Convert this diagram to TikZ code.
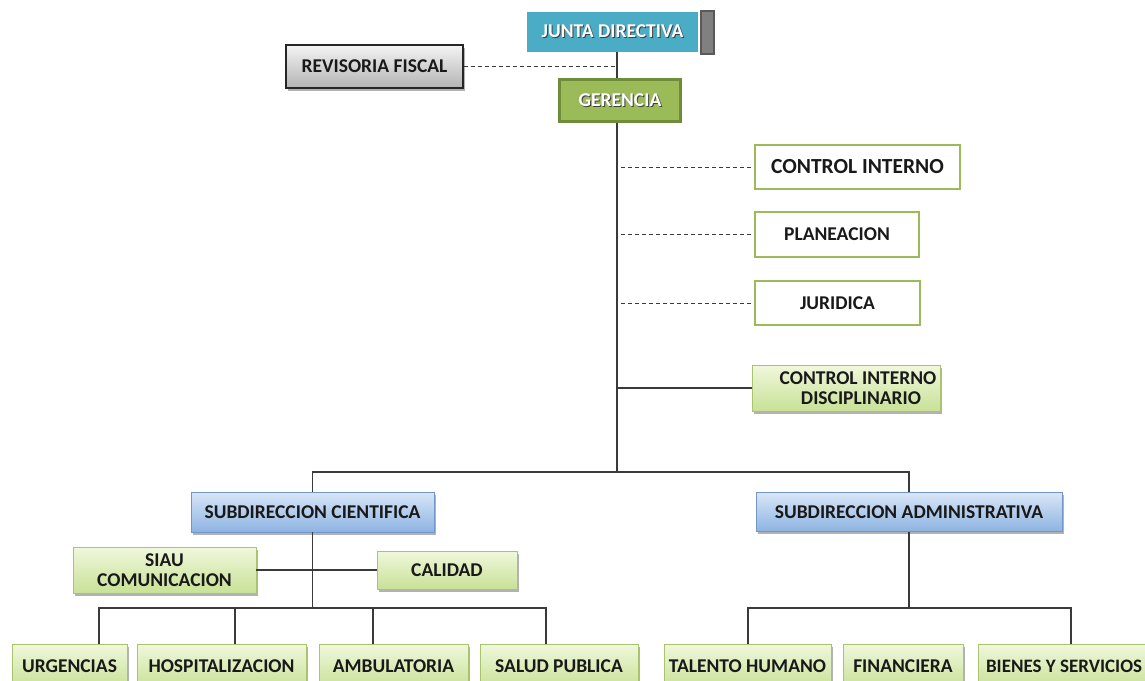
\documentclass[tikz,border=0pt]{standalone}
\usepackage{fontspec}
\setmainfont{Carlito}
\usetikzlibrary{shadows}

\definecolor{linegray}{HTML}{3A3A3A}
\definecolor{teal}{HTML}{4BACC6}
\definecolor{olive}{HTML}{9BBB59}
\definecolor{olivedark}{HTML}{6F8C3A}
\definecolor{greentop}{HTML}{F0F8DC}
\definecolor{greenbot}{HTML}{C8E196}
\definecolor{greenline}{HTML}{A9C36E}
\definecolor{bluetop}{HTML}{D9E6F7}
\definecolor{bluebot}{HTML}{8DB3E2}
\definecolor{blueline}{HTML}{7396C8}
\definecolor{graytop}{HTML}{F4F4F4}
\definecolor{graybot}{HTML}{B3B3B3}

% white lettering with a dark offset copy behind it
\newcommand\shtxt[1]{\leavevmode\rlap{\kern1pt\raisebox{-1pt}{\color{black!75}#1}}{\color{white}#1}}

\tikzset{
  box/.style={rectangle, inner sep=0pt, align=center, text=black!90,
    font=\fontsize{19.5}{20}\selectfont\bfseries},
  soft/.style={drop shadow={shadow xshift=2pt, shadow yshift=-2.5pt, opacity=0.3, fill=black}},
  jbox/.style={box, fill=teal},
  tabbox/.style={rectangle, inner sep=0pt, fill=black!50, draw=black!65, line width=2pt},
  graybox/.style={box, soft, draw=black!85, line width=1.2pt, top color=graytop, bottom color=graybot},
  gerbox/.style={box, fill=olive, draw=olivedark, line width=3pt},
  staffbox/.style={box, fill=white, draw=olive, line width=2.5pt},
  greenbox/.style={box, soft, draw=greenline, line width=0.9pt, top color=greentop, bottom color=greenbot},
  bluebox/.style={box, soft, draw=blueline, line width=0.9pt, top color=bluetop, bottom color=bluebot},
  link/.style={draw=linegray, line width=1.3pt},
  dashline/.style={draw=linegray, line width=1pt, dash pattern=on 4pt off 3pt},
}

\begin{document}
\begin{tikzpicture}[x=1pt, y=-1pt]
\useasboundingbox (0,0) rectangle (1145,680);
\clip (0,0) rectangle (1145,680);
\fill[white] (0,0) rectangle (1145,680);

% ---- top of the chart ----
\node[jbox, minimum width=171pt, minimum height=40pt] (junta) at (612.5,32) {\shtxt{JUNTA DIRECTIVA}};
\node[tabbox, minimum width=13pt, minimum height=43pt] (jtab) at (707.5,32.5) {};
\node[graybox, minimum width=177pt, minimum height=43pt] (rev) at (374.5,66.5) {REVISORIA FISCAL};
\node[gerbox, minimum width=121pt, minimum height=42pt] (ger) at (620,100.5) {\shtxt{GERENCIA}};

% ---- staff offices ----
\node[staffbox, minimum width=205pt, minimum height=44pt, font=\fontsize{21.5}{22}\selectfont\bfseries] (ci) at (857.5,167) {CONTROL INTERNO};
\node[staffbox, minimum width=164pt, minimum height=45pt] (plan) at (837,234.5) {PLANEACION};
\node[staffbox, minimum width=165pt, minimum height=44pt] (jur) at (837.5,303) {JURIDICA};
\node[greenbox, minimum width=188pt, minimum height=46pt] (cid) at (846,388) {\hspace*{24pt}CONTROL INTERNO\\\hspace*{30pt}DISCIPLINARIO};

% ---- sub-directorates ----
\node[bluebox, minimum width=243pt, minimum height=40pt] (sc) at (312.5,512) {SUBDIRECCION CIENTIFICA};
\node[bluebox, minimum width=306pt, minimum height=39pt] (sa) at (909,512) {SUBDIRECCION ADMINISTRATIVA};
\node[greenbox, minimum width=183pt, minimum height=46pt] (siau) at (164.5,570) {SIAU\\COMUNICACION};
\node[greenbox, minimum width=140pt, minimum height=38pt] (cal) at (447,570) {CALIDAD};

% ---- operating units ----
\node[greenbox, minimum width=115pt, minimum height=44pt] (urg) at (69.5,666) {URGENCIAS};
\node[greenbox, minimum width=169pt, minimum height=44pt] (hos) at (221.5,666) {HOSPITALIZACION};
\node[greenbox, minimum width=149pt, minimum height=44pt] (amb) at (393.5,666) {AMBULATORIA};
\node[greenbox, minimum width=158pt, minimum height=44pt] (sal) at (559,666) {SALUD PUBLICA};
\node[greenbox, minimum width=167pt, minimum height=44pt] (tal) at (747.5,666) {TALENTO HUMANO};
\node[greenbox, minimum width=120pt, minimum height=44pt] (fin) at (903,666) {FINANCIERA};
\node[greenbox, minimum width=172pt, minimum height=44pt, font=\fontsize{19}{20}\selectfont\bfseries] (bie) at (1064,666) {BIENES Y SERVICIOS};

% ---- connector anchors ----
\coordinate (tr) at (617,0);
\coordinate (hub) at (617,472);
\coordinate (ds) at (621,0);
\coordinate (d1) at (99,608);
\coordinate (d2) at (235,608);
\coordinate (d3) at (373,608);
\coordinate (d4) at (546,608);
\coordinate (e1) at (748,608);
\coordinate (e2) at (907,608);
\coordinate (e3) at (1071,608);

% ---- main trunk ----
\draw[link] (junta.south -| tr) -- (ger.north -| tr);
\draw[link] (ger.south -| tr) -- (hub);
\draw[dashline] (rev.east) -- (rev.east -| tr);
\draw[dashline] (ds |- ci.west) -- (ci.west);
\draw[dashline] (ds |- plan.west) -- (plan.west);
\draw[dashline] (ds |- jur.west) -- (jur.west);
\draw[link] (cid.west -| tr) -- (cid.west);
\draw[link] (sc.north) |- (hub) -| (sa.north);

% ---- scientific branch ----
\draw[link] (siau.east) -- (cal.west);
\draw[link] (sc.south) -- (sc.south |- d1);
\draw[link] (d1 |- urg.north) -- (d1) -- (d4) -- (d4 |- sal.north);
\draw[link] (d2) -- (d2 |- hos.north);
\draw[link] (d3) -- (d3 |- amb.north);

% ---- administrative branch ----
\draw[link] (sa.south) -- (sa.south |- e2);
\draw[link] (e1 |- tal.north) -- (e1) -- (e3) -- (e3 |- bie.north);
\end{tikzpicture}
\end{document}
